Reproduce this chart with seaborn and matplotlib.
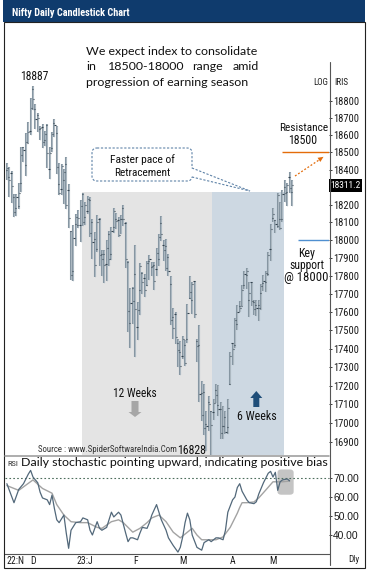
import numpy as np
import pandas as pd
import matplotlib
matplotlib.use("Agg")
import matplotlib.pyplot as plt
import matplotlib.font_manager as fm
import seaborn as sns
from matplotlib.patches import Rectangle, FancyBboxPatch, FancyArrow
from matplotlib.lines import Line2D
from matplotlib.transforms import Affine2D
from matplotlib.ticker import FixedLocator, FixedFormatter, NullLocator

# ---------------- data ----------------
dates = (
    ["2022-11-%02d" % d for d in [16, 17, 18, 21, 22, 23, 24, 25, 28, 29, 30]]
    + ["2022-12-%02d" % d for d in [1, 2, 5, 6, 7, 8, 9, 12, 13, 14, 15, 16, 19, 20, 21, 22, 23, 26, 27, 28, 29, 30]]
    + ["2023-01-%02d" % d for d in [2, 3, 4, 5, 6, 9, 10, 11, 12, 13, 16, 17, 18, 19, 20, 23, 24, 25, 27, 30, 31]]
    + ["2023-02-%02d" % d for d in [1, 2, 3, 6, 7, 8, 9, 10, 13, 14, 15, 16, 17, 20, 21, 22, 23, 24, 27, 28]]
    + ["2023-03-%02d" % d for d in [1, 2, 3, 6, 8, 9, 10, 13, 14, 15, 16, 17, 20, 21, 22, 23, 24, 27, 28, 29, 31]]
    + ["2023-04-%02d" % d for d in [3, 5, 6, 10, 11, 12, 13, 17, 18, 19, 20, 21, 24, 25, 26, 27, 28]]
    + ["2023-05-%02d" % d for d in [2, 3, 4, 5, 8, 9, 10, 11, 12]]
)
opens = [18398, 18358, 18381, 18246, 18180, 18194, 18326, 18529, 18430, 18552, 18625,
         18871, 18753, 18719, 18638, 18645, 18570, 18662, 18402, 18524, 18671, 18614, 18320, 18288, 18340, 18435, 18287, 18050, 17830, 18090, 18085, 18084, 18260,
         18131, 18164, 18230, 18101, 18009, 17953, 18122, 17924, 17921, 17868, 18034, 17922, 18074, 18120, 18115, 18119, 18183, 18094, 17877, 17541, 17731,
         17811, 17518, 17721, 17818, 17790, 17750, 17885, 17847, 17859, 17840, 17897, 18094, 17975, 17965, 17905, 17755, 17574, 17591, 17429, 17383,
         17360, 17421, 17451, 17680, 17665, 17772, 17444, 17421, 17160, 17166, 16994, 17111, 17066, 17061, 17178, 17097, 17076, 16985, 17031, 16978, 17211,
         17428, 17422, 17533, 17634, 17634, 17750, 17807, 17664, 17766, 17653, 17638, 17640, 17707, 17761, 17767, 17813, 17950,
         18125, 18113, 18082, 18117, 18121, 18304, 18273, 18357, 18273]
highs = [18442, 18417, 18394, 18263, 18262, 18325, 18529, 18534, 18614, 18678, 18816,
         18888, 18781, 18729, 18654, 18668, 18625, 18664, 18533, 18617, 18697, 18652, 18440, 18432, 18404, 18473, 18318, 18050, 18084, 18149, 18173, 18229, 18265,
         18216, 18251, 18243, 18120, 18047, 18141, 18127, 17945, 17946, 17999, 18050, 18072, 18183, 18155, 18132, 18143, 18201, 18100, 17884, 17735, 17736,
         17972, 17653, 17870, 17823, 17811, 17881, 17916, 17876, 17880, 17954, 18034, 18134, 18000, 18005, 17924, 17799, 17620, 17599, 17451, 17440,
         17467, 17445, 17644, 17800, 17766, 17772, 17451, 17529, 17224, 17211, 17063, 17145, 17066, 17127, 17207, 17205, 17110, 17091, 17062, 17126, 17381,
         17428, 17570, 17638, 17663, 17749, 17825, 17842, 17764, 17766, 17666, 17665, 17664, 17754, 17807, 17827, 17931, 18089,
         18180, 18116, 18267, 18216, 18286, 18344, 18326, 18389, 18342]
lows = [18344, 18246, 18209, 18133, 18134, 18174, 18272, 18445, 18365, 18552, 18604,
        18746, 18639, 18620, 18571, 18528, 18537, 18410, 18346, 18503, 18587, 18374, 18255, 18255, 18202, 18178, 18068, 17779, 17774, 17968, 18068, 17992, 18080,
        18087, 18149, 18020, 17893, 17795, 17936, 17856, 17800, 17761, 17774, 17853, 17886, 18040, 18063, 18016, 18033, 18077, 17846, 17493, 17405, 17537,
        17353, 17446, 17584, 17699, 17684, 17744, 17779, 17801, 17719, 17800, 17853, 17994, 17884, 17830, 17802, 17529, 17455, 17427, 17299, 17255,
        17345, 17306, 17428, 17671, 17587, 17570, 17325, 17113, 17011, 16938, 16850, 16958, 16828, 17017, 17107, 17036, 16917, 16918, 16941, 16941, 17205,
        17312, 17403, 17502, 17598, 17634, 17730, 17729, 17574, 17635, 17585, 17580, 17553, 17612, 17717, 17711, 17797, 17885,
        18101, 18042, 18066, 18055, 18100, 18215, 18194, 18270, 18194]
closes = [18409, 18343, 18307, 18160, 18244, 18267, 18484, 18512, 18562, 18618, 18758,
          18812, 18696, 18701, 18642, 18560, 18609, 18497, 18497, 18608, 18660, 18414, 18269, 18420, 18385, 18199, 18127, 17806, 18014, 18132, 18123, 18191, 18105,
          18197, 18232, 18043, 17992, 17859, 18101, 17914, 17895, 17858, 17956, 17895, 18053, 18165, 18107, 18027, 18118, 18118, 17892, 17604, 17649, 17662,
          17616, 17610, 17854, 17765, 17722, 17872, 17893, 17856, 17771, 17929, 18016, 18036, 17944, 17844, 17827, 17555, 17511, 17466, 17392, 17304,
          17451, 17322, 17594, 17711, 17754, 17589, 17413, 17154, 17043, 16972, 16985, 17100, 16988, 17107, 17151, 17077, 16945, 16986, 16951, 17081, 17360,
          17398, 17557, 17599, 17624, 17722, 17812, 17828, 17707, 17660, 17618, 17624, 17624, 17743, 17769, 17814, 17915, 18065,
          18148, 18090, 18256, 18069, 18264, 18266, 18315, 18297, 18311.2]

# daily stochastic (%K fast line, %D slow line), bar index -> value
k_idx = [0, 3, 5, 7, 9, 10, 11, 13, 14, 15, 17, 18, 19, 20, 21, 22, 24, 25, 26, 27, 29, 31, 32, 34, 35, 36, 38, 39, 40, 42,
         44, 45, 47, 48, 50, 51, 52, 53, 55, 56, 57, 59, 60, 61, 63, 64, 65, 67, 68, 70, 72, 73, 74, 75, 76, 77, 78, 80, 82, 83,
         85, 86, 88, 89, 91, 92, 93, 95, 96, 97, 98, 99, 101, 102, 104, 105, 106, 108, 110, 111, 112, 113, 114, 115, 116, 118, 119]
k_val = [67, 57, 64, 67, 72, 74, 70.5, 67.5, 62.5, 59.5, 58.5, 56, 61, 54, 48, 46.5, 50.5, 41, 33, 42.5, 46.5, 47, 49, 48, 42.5, 40, 47, 43.5, 42.5, 44,
         52, 49.5, 52, 50.5, 41, 36.5, 38.5, 38.5, 37.5, 41, 44, 43.5, 46.5, 50.5, 56, 52, 48, 42.5, 38.5, 34.5, 31, 33.5, 39, 46.5, 51.5, 48, 40, 33.5, 32, 36,
         37.5, 36.5, 38.5, 38.5, 37.5, 42.5, 52, 58.5, 60, 65, 67, 63, 58.5, 57, 56.5, 57.5, 61.5, 67.5, 72.5, 73.5, 70.5, 73, 63.5, 68, 69, 69.5, 68.5]
d_idx = [0, 5, 11, 15, 19, 21, 24, 27, 31, 34, 38, 40, 44, 47, 49, 51, 53, 56, 59, 61, 64, 67, 70, 73, 76, 78, 80, 82, 85, 88,
         91, 94, 97, 98, 99, 101, 104, 106, 109, 112, 114, 116, 119]
d_val = [66, 63.5, 69, 64.5, 62, 56, 50.5, 47, 46.5, 46.5, 44, 43.5, 47, 48, 46.5, 44, 41.5, 43.5, 46.5, 49, 50.5, 47, 41.5, 38.5, 41.5, 43.5, 40, 37.5, 37.5, 37.5,
         39, 44, 51.5, 54.5, 57, 57, 57.4, 59.5, 63.7, 68, 68, 68, 68.4]

price_ticks = list(range(16900, 18801, 100))
rsi_ticks = [40, 50, 60, 70]
month_labels = ["22:N", "D", "23:J", "F", "M", "A", "M"]
month_dates = ["2022-11-16", "2022-12-01", "2023-01-02", "2023-02-01", "2023-03-01", "2023-04-03", "2023-05-02"]
resistance = 18500
support = 18000
last_close = 18311.2
peak_label = "18887"
low_label = "16828"
stoch_ref = 70

# ---------------- style ----------------
sns.set_style("white")

_names = {f.name for f in fm.fontManager.ttflist}
_cond_names = {f.name for f in fm.fontManager.ttflist
               if f.stretch in ("condensed", "semi-condensed", "extra-condensed", 600, 500)}
NARROW = ["Liberation Sans", "DejaVu Sans"]
NSTRETCH = "normal"
for cand in ["Liberation Sans Narrow", "Arial Narrow", "Roboto Condensed", "Open Sans Condensed",
             "DejaVu Sans Condensed", "Noto Sans Condensed"]:
    if cand in _names:
        NARROW = [cand, "DejaVu Sans"]
        break
else:
    for cand in ["Liberation Sans", "Roboto", "Noto Sans", "DejaVu Sans"]:
        if cand in _cond_names:
            NARROW = [cand, "DejaVu Sans"]
            NSTRETCH = "condensed"
            break
REG = ["Liberation Sans", "DejaVu Sans"]
BODY = ["Lato", "DejaVu Sans"]
plt.rcParams["font.family"] = NARROW
plt.rcParams["font.stretch"] = NSTRETCH

W, H = 370, 575
fig = plt.figure(figsize=(W / 100, H / 100), dpi=100)
fig.patch.set_facecolor("white")
PIX = Affine2D().scale(1, -1).translate(0, H)   # pixel coords, y downward
R = fig.canvas.get_renderer()


def ptext(x, y, s, target_w=None, **kw):
    t = fig.text(x / W, 1 - y / H, s, **kw)
    if target_w:
        w = t.get_window_extent(R).width
        t.set_fontsize(t.get_fontsize() * target_w / w)
    return t


df = pd.DataFrame({"date": pd.to_datetime(dates), "open": opens, "high": highs,
                   "low": lows, "close": closes})
df["i"] = np.arange(len(df))
pos = {d: i for i, d in enumerate(dates)}

XL = (-0.785, 135.58)

# ---------------- main price panel ----------------
ax = fig.add_axes([5 / W, 1 - 455 / H, 324 / W, 433 / H])
ax.set_yscale("log")
ax.set_xlim(*XL)
ax.set_ylim(16831, 19270)
ax.set_facecolor("none")
for s in ax.spines.values():
    s.set_visible(False)
ax.xaxis.set_major_locator(NullLocator())
ax.xaxis.set_minor_locator(NullLocator())
ax.yaxis.set_major_locator(FixedLocator(price_ticks))
# the 18300 label sits under the last-price box
ax.yaxis.set_major_formatter(FixedFormatter(["" if abs(t - last_close) < 50 else str(t) for t in price_ticks]))
ax.yaxis.set_minor_locator(NullLocator())
ax.yaxis.tick_right()
ax.tick_params(axis="y", direction="out", length=2, width=0.6, pad=1,
               labelsize=7.6, colors="#1a1a1a")
for lab in ax.get_yticklabels():
    lab.set_fontfamily(NARROW)
    lab.set_fontstretch(NSTRETCH)

shade_top = 18275
g0 = pos["2022-12-30"] - 0.5
g1 = pos["2023-03-20"] + 0.5
g2 = pos["2023-05-08"] + 0.5
ax.add_patch(Rectangle((g0, 16831), g1 - g0, shade_top - 16831, color="#e4e4e4", lw=0, zorder=0))
ax.add_patch(Rectangle((g1, 16831), g2 - g1, shade_top - 16831, color="#cdd8e2", lw=0, zorder=0))

ax.vlines(df["i"], df["low"], df["high"], color="#8696a2", lw=1.5, zorder=2)
ax.vlines(df["i"], df["low"], df["high"], color="#c3cdd4", lw=0.45, zorder=3)
ax.hlines(df["open"], df["i"] - 0.5, df["i"], color="#34434f", lw=0.8, zorder=4)
ax.hlines(df["close"], df["i"], df["i"] + 0.5, color="#34434f", lw=0.8, zorder=4)

ax.hlines(resistance, 115.8, XL[1], color="#e46c0a", lw=1.0, zorder=5)
ax.hlines(support, 122.5, XL[1], color="#4f8fd0", lw=1.0, zorder=5)

# ---------------- stochastic panel ----------------
ax2 = fig.add_axes([5 / W, 1 - 554 / H, 324 / W, 98 / H])
ax2.set_xlim(*XL)
ax2.set_ylim(30, 81.58)
ax2.set_facecolor("none")
for k, s in ax2.spines.items():
    s.set_visible(k == "bottom")
ax2.spines["bottom"].set_color("#555555")
ax2.spines["bottom"].set_linewidth(0.8)
ax2.add_patch(FancyBboxPatch((113.9, 61.2), 6.8, 13.3, boxstyle="round,pad=0,rounding_size=1.6",
                             fc="#c4c4c4", ec="none", zorder=1))
ax2.axhline(stoch_ref, color="#4e6e5d", lw=0.8, ls=(0, (1.5, 2)), zorder=1)
sns.lineplot(x=d_idx, y=d_val, ax=ax2, color="#a3a3a3", lw=1.0, legend=False, zorder=2)
sns.lineplot(x=k_idx, y=k_val, ax=ax2, color="#52687a", lw=0.9, legend=False, zorder=3)
ax2.set_xlabel("")
ax2.set_ylabel("")
ax2.yaxis.set_major_locator(FixedLocator(rsi_ticks))
ax2.yaxis.set_major_formatter(FixedFormatter(["%.2f" % t for t in rsi_ticks]))
ax2.yaxis.tick_right()
ax2.tick_params(axis="y", direction="out", length=2, width=0.6, pad=1, labelsize=7.4, colors="#1a1a1a")
for lab in ax2.get_yticklabels():
    lab.set_fontfamily(REG)
    lab.set_fontstretch("normal")
ax2.set_xticks([pos[d] for d in month_dates])
ax2.set_xticklabels(month_labels)
ax2.tick_params(axis="x", length=0, pad=1.5, labelsize=7, colors="#1a1a1a")
for lab in ax2.get_xticklabels():
    lab.set_fontfamily(NARROW)
    lab.set_fontstretch(NSTRETCH)
ax2.get_xticklabels()[0].set_horizontalalignment("left")

# ---------------- frame / decorations ----------------
fig.add_artist(Rectangle((3, 0), 362, 22, transform=PIX, color="#0f3b6d", lw=0))
fig.add_artist(Rectangle((4, 22), 361, 546, transform=PIX, fill=False, ec="#222222", lw=0.8))
fig.add_artist(Line2D([329.5, 329.5], [62, 565], transform=PIX, color="#555555", lw=0.8))
fig.add_artist(Line2D([5, 329], [455.5, 455.5], transform=PIX, color="#a0a0a0", lw=1.2))

# callout box
fig.add_artist(FancyBboxPatch((92, 148), 100, 33, boxstyle="round,pad=0,rounding_size=5", transform=PIX,
                              fc="white", ec="#5f83a8", lw=0.8, ls=(0, (2, 1.5))))
fig.add_artist(Line2D([192, 192], [169, 176], transform=PIX, color="white", lw=1.5))
fig.add_artist(Line2D([192, 250], [168, 191], transform=PIX, color="#5f83a8", lw=0.8, ls=(0, (2, 1.5))))
fig.add_artist(Line2D([192, 250], [177, 191], transform=PIX, color="#5f83a8", lw=0.8, ls=(0, (2, 1.5))))

# arrows
fig.add_artist(FancyArrow(135, 401, 0, 16, width=7, head_width=13, head_length=5,
                          length_includes_head=True, transform=PIX, color="#a6a6a6", lw=0))
fig.add_artist(FancyArrow(256.3, 407, 0, -16, width=6, head_width=12, head_length=7,
                          length_includes_head=True, transform=PIX, color="#1f4e79", lw=0))
fig.add_artist(Line2D([295, 319], [176, 160], transform=PIX, color="#e36c0a", lw=0.9, ls=(0, (1.5, 1.5))))
fig.add_artist(FancyArrow(318, 160.5, 5.5, -3.7, width=0.1, head_width=5, head_length=5.5,
                          length_includes_head=True, transform=PIX, color="#e36c0a", lw=0))

# last price box
fig.add_artist(Rectangle((329, 179), 33, 13, transform=PIX, color="black", lw=0))
ptext(345.5, 185.8, "%.1f" % last_close, target_w=31, color="white", fontsize=7, ha="center", va="center",
      family=NARROW, fontstretch=NSTRETCH)

# ---------------- texts ----------------
NK = dict(family=NARROW, fontstretch=NSTRETCH)
ptext(12, 16, "Nifty Daily Candlestick Chart", target_w=119, color="white", fontsize=9,
      fontweight="bold", ha="left", va="baseline", **NK)

t1 = ptext(86, 55, "We expect index to consolidate", target_w=172, fontsize=9.5, color="#111111",
           ha="left", va="baseline", family=BODY)
fs = t1.get_fontsize()
ptext(86, 70.5, "in", fontsize=fs, color="#111111", ha="left", va="baseline", family=BODY)
ptext(108, 70.5, "18500-18000", fontsize=fs, color="#111111", ha="left", va="baseline", family=BODY)
ptext(192, 70.5, "range", fontsize=fs, color="#111111", ha="left", va="baseline", family=BODY)
ptext(259, 70.5, "amid", fontsize=fs, color="#111111", ha="right", va="baseline", family=BODY)
ptext(86, 86, "progression of earning season", fontsize=fs, color="#111111", ha="left", va="baseline", family=BODY)

ptext(34.5, 80, peak_label, target_w=29, fontsize=9, color="#111111", ha="center", va="baseline", **NK)
ptext(313, 85, "LOG", target_w=15, fontsize=7, color="#222222", ha="left", va="baseline", **NK)
ptext(334.5, 85, "IRIS", target_w=14, fontsize=7, color="#222222", ha="left", va="baseline", **NK)

ptext(142.5, 163, "Faster pace of", target_w=65, fontsize=8.5, color="#111111", ha="center", va="baseline", **NK)
ptext(142, 176.5, "Retracement", target_w=56, fontsize=8.5, color="#111111", ha="center", va="baseline", **NK)

ptext(303.5, 130.5, "Resistance", target_w=49, fontsize=8.5, color="#111111", ha="center", va="baseline", **NK)
ptext(302.5, 143.5, "%d" % resistance, target_w=29, fontsize=8.5, color="#111111", ha="center", va="baseline", **NK)

ptext(306.5, 257, "Key", target_w=17, fontsize=8.5, color="#111111", ha="center", va="baseline", **NK)
ptext(306.5, 268.5, "support", target_w=35, fontsize=8.5, color="#111111", ha="center", va="baseline", **NK)
ptext(306, 281.5, "@ %d" % support, target_w=44, fontsize=8.5, color="#111111", ha="center", va="baseline", **NK)

ptext(135, 397, "12 Weeks", target_w=44, fontsize=8.5, color="#111111", ha="center", va="baseline", **NK)
ptext(257, 420, "6 Weeks", target_w=40, fontsize=8.5, color="#111111", ha="center", va="baseline", **NK)
ptext(192, 453.5, low_label, target_w=29, fontsize=8.5, color="#111111", ha="center", va="baseline", **NK)
ptext(38, 452.5, "Source : www.SpiderSoftwareIndia.Com", target_w=140, fontsize=7, color="#333333",
      ha="left", va="baseline", **NK)

ptext(7, 466, "RSI", target_w=11, fontsize=6, color="#333333", ha="left", va="baseline", **NK)
ptext(21, 466.5, "Daily stochastic pointing upward, indicating positive bias", target_w=308,
      fontsize=9.5, color="#111111", ha="left", va="baseline", family=BODY)
ptext(353.5, 562.5, "Dly", target_w=11, fontsize=6.5, color="#222222", ha="center", va="baseline", **NK)

fig.savefig("out.png", dpi=100, facecolor="white")
